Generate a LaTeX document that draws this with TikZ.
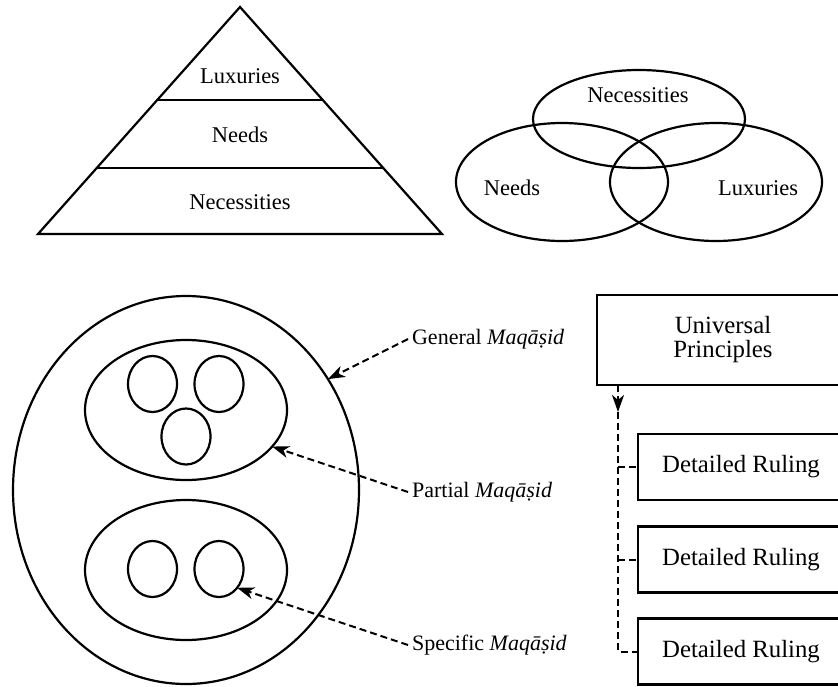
\documentclass[tikz,border=0pt]{standalone}
\usepackage{fontspec}
\setmainfont{Liberation Serif}
\usetikzlibrary{arrows.meta,shapes.geometric}
\begin{document}
\begin{tikzpicture}[x=1pt,y=-1pt,
  line width=2.2pt, line join=miter,
  lbl/.style={font=\fontsize{22.5}{26}\selectfont, inner sep=0pt},
  side/.style={font=\fontsize{22}{26}\selectfont, inner sep=3pt, anchor=west},
  oval/.style={draw, ellipse, inner sep=0pt, outer sep=0pt},
  rbox/.style={draw, rectangle, inner sep=0pt, outer sep=0pt, align=center, font=\fontsize{24.8}{24}\selectfont},
  dsh/.style={dash pattern=on 7pt off 4pt, line width=2pt},
  tip/.style={-{Stealth[length=17pt,width=12pt,inset=5pt]}}
]
\useasboundingbox (0,0) rectangle (838,686);

% ---------- pyramid ----------
\coordinate (apex) at (240,7);
\coordinate (bl) at (38,234);
\coordinate (br) at (442,234);
\draw (apex) -- (br) -- (bl) -- cycle;
\coordinate (l1a) at (157,100); \coordinate (l1b) at (323,100);
\coordinate (l2a) at (97,168);  \coordinate (l2b) at (383,168);
\draw (l1a) -- (l1b);
\draw (l2a) -- (l2b);
\node[lbl] (plux) at (240,76) {Luxuries};
\node[lbl] (pneed) at (240,135) {Needs};
\node[lbl] (pnec) at (240,202) {Necessities};

% ---------- Venn ----------
\node[oval, minimum width=212pt, minimum height=98pt] (vnec) at (639,119) {};
\node[oval, minimum width=212pt, minimum height=118pt] (vneed) at (562,182) {};
\node[oval, minimum width=212pt, minimum height=118pt] (vlux) at (716,182) {};
\node[lbl] (tnec) at (638,95) {Necessities};
\node[lbl] (tneed) at (512,188) {Needs};
\node[lbl] (tlux) at (758,188) {Luxuries};

% ---------- nested maqasid ----------
\node[oval, minimum width=346pt, minimum height=388pt] (outer) at (186,490) {};
\node[oval, minimum width=202pt, minimum height=140pt] (up) at (186,410) {};
\node[oval, minimum width=202pt, minimum height=140pt] (low) at (186,570) {};
\node[oval, minimum width=49pt, minimum height=56pt] (c1) at (152.5,384) {};
\node[oval, minimum width=49pt, minimum height=56pt] (c2) at (219,384) {};
\node[oval, minimum width=49pt, minimum height=56pt] (c3) at (186,436.5) {};
\node[oval, minimum width=49pt, minimum height=56pt] (c4) at (152.5,569) {};
\node[oval, minimum width=49pt, minimum height=56pt] (c5) at (219,569) {};

\node[side] (gen) at (408,339) {General \textit{Maq\=a\d{s}id}};
\node[side] (par) at (408,492) {Partial \textit{Maq\=a\d{s}id}};
\node[side] (spe) at (408,645) {Specific \textit{Maq\=a\d{s}id}};

\draw[dsh,tip] (gen.west) -- (outer.38.5);
\draw[dsh,tip] (par.west) -- (up.-23.6);
\draw[dsh,tip] (spe.west) -- (c5.-46);

% ---------- universal principles ----------
\node[rbox, minimum width=252pt, minimum height=90pt] (univ) at (723,340) {Universal\\Principles};
\node[rbox, minimum width=206pt, minimum height=66pt] (d1) at (741,467) {Detailed Ruling};
\node[rbox, minimum width=206pt, minimum height=66pt] (d2) at (741,559.5) {Detailed Ruling};
\node[rbox, minimum width=206pt, minimum height=66pt] (d3) at (741,651.5) {Detailed Ruling};

\coordinate (vtop) at (618,385);
\coordinate (vtip) at (618,412);
\draw[dsh,tip] (vtop) -- (vtip);
\draw[dsh] (vtip) |- (d3.west);
\draw[dsh] (d1.west -| vtip) -- (d1.west);
\draw[dsh] (d2.west -| vtip) -- (d2.west);
\end{tikzpicture}
\end{document}
